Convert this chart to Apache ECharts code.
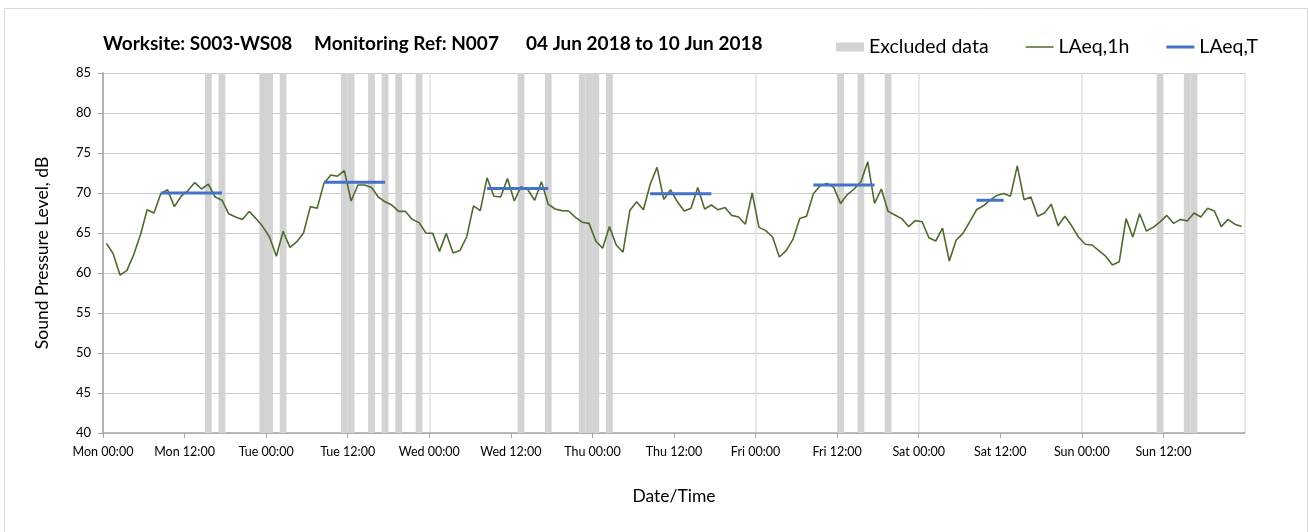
<!DOCTYPE html>
<html>
<head>
<meta charset="utf-8">
<script src="https://cdn.jsdelivr.net/npm/echarts@6/dist/echarts.min.js"></script>
<style>
html,body{margin:0;padding:0;background:#fff;}
#chart{width:1309px;height:532px;}
</style>
</head>
<body>
<div id="chart"></div>
<script>
// Hourly LAeq,1h values starting Mon 00:00 (one value per hour)
const laeq1h = [
 63.7,62.4,59.75,60.3,62.25,64.75,67.9,67.5,69.9,70.4,68.3,69.6,70.3,71.3,70.5,71.1,69.5,69.1,67.4,67.0,66.7,67.7,66.8,65.8,
 64.5,62.1,65.2,63.2,63.9,65.0,68.3,68.1,71.2,72.25,72.1,72.8,69.0,71.0,71.0,70.7,69.5,68.9,68.5,67.7,67.7,66.7,66.3,65.0,
 64.95,62.7,64.95,62.5,62.8,64.5,68.4,67.8,71.9,69.6,69.5,71.8,69.0,70.8,70.4,69.1,71.4,68.6,68.0,67.8,67.75,66.96,66.35,66.2,
 64.0,63.1,65.8,63.5,62.6,67.8,68.9,67.9,71.1,73.2,69.2,70.4,68.9,67.75,68.1,70.7,68.0,68.5,67.9,68.2,67.2,67.0,66.1,70.0,
 65.7,65.3,64.5,62.0,62.8,64.2,66.8,67.1,69.9,70.9,71.2,70.7,68.7,69.8,70.5,71.4,73.9,68.7,70.5,67.7,67.25,66.8,65.8,66.55,
 66.4,64.4,64.0,65.6,61.5,64.1,64.95,66.4,67.9,68.4,69.1,69.7,69.95,69.6,73.4,69.15,69.5,67.1,67.5,68.6,65.9,67.1,65.9,64.5,
 63.6,63.5,62.8,62.1,61.0,61.4,66.8,64.5,67.4,65.25,65.7,66.4,67.2,66.2,66.7,66.5,67.5,67.0,68.1,67.75,65.8,66.7,66.1,65.8
];
// Excluded hours (hour index from Mon 00:00)
const excludedHours = [15,17,23,24,26,35,36,39,41,43,46,61,65,70,71,72,74,108,111,115,155,159,160];
// LAeq,T periods: first hour, last hour, level
const periodStart = [8,32,56,80,104,128];
const periodEnd   = [17,41,65,89,113,132];
const periodLevel = [70.0,71.35,70.55,69.9,71.0,69.1];
// Tick labels every 12 hours
const tickLabels = ['Mon 00:00','Mon 12:00','Tue 00:00','Tue 12:00','Wed 00:00','Wed 12:00','Thu 00:00','Thu 12:00','Fri 00:00','Fri 12:00','Sat 00:00','Sat 12:00','Sun 00:00','Sun 12:00'];

const FONT = 'Lato';
const lineData = laeq1h.map((v,i)=>[i+0.5, v]);
const tSeries = [];
periodStart.forEach((s,k)=>{
  tSeries.push([s+0.5, periodLevel[k]]);
  tSeries.push([periodEnd[k]+0.5, periodLevel[k]]);
  tSeries.push([periodEnd[k]+0.5, null]);
});

const thinIcon = 'path://M0,0L28,0L28,0.01Z M0,3.7L28,3.7L28,5.3L0,5.3Z M0,9L28,9L28,9.01Z';
const thickIcon = 'path://M0,0L28,0L28,0.01Z M0,3L28,3L28,6L0,6Z M0,9L28,9L28,9.01Z';

const chart = echarts.init(document.getElementById('chart'));
chart.setOption({
  animation:false,
  backgroundColor:'#fff',
  textStyle:{fontFamily:FONT},
  graphic:[{type:'rect',shape:{x:4.5,y:8.5,width:1303,height:540},style:{fill:'none',stroke:'#d9d9d9',lineWidth:1},z:-10}],
  title:[
    {text:'Worksite: S003-WS08',left:103,top:34,padding:0,textStyle:{fontFamily:FONT,fontWeight:'bold',fontSize:19,color:'#000'}},
    {text:'Monitoring Ref: N007',left:314,top:34,padding:0,textStyle:{fontFamily:FONT,fontWeight:'bold',fontSize:19,color:'#000'}},
    {text:'04 Jun 2018 to 10 Jun 2018',left:526,top:34,padding:0,textStyle:{fontFamily:FONT,fontWeight:'bold',fontSize:19,color:'#000'}}
  ],
  legend:{
    left:836, top:37, padding:0, itemGap:37, itemWidth:28, itemHeight:9,
    textStyle:{fontFamily:FONT,fontSize:19.5,color:'#000'},
    data:[
      {name:'Excluded data',icon:'rect',itemStyle:{color:'#d3d3d3',borderWidth:0}},
      {name:'LAeq,1h',icon:thinIcon,itemStyle:{color:'#4f6a2e',borderWidth:0}},
      {name:'LAeq,T',icon:thickIcon,itemStyle:{color:'#4472c4',borderWidth:0}}
    ]
  },
  grid:{left:103,right:64,top:73,bottom:99},
  xAxis:[{
    type:'value',min:0,max:168,interval:12,
    name:'Date/Time',nameLocation:'middle',nameGap:54,
    nameTextStyle:{fontFamily:FONT,fontSize:17.5,color:'#000'},
    axisLine:{show:true,lineStyle:{color:'#a6a6a6',width:1.5}},
    axisTick:{show:true,length:5,lineStyle:{color:'#a6a6a6'}},
    axisLabel:{color:'#000',fontSize:12.5,margin:12,showMaxLabel:false,
      formatter:(v)=>tickLabels[Math.round(v/12)]||''},
    splitLine:{show:false}
  },{
    type:'value',min:0,max:168,interval:24,position:'bottom',
    axisLine:{show:false},axisTick:{show:false},axisLabel:{show:false},
    splitLine:{show:true,lineStyle:{color:'#e0e0e0',width:1.5}}
  }],
  yAxis:[{
    type:'value',min:40,max:85,interval:5,
    name:'Sound Pressure Level, dB',nameLocation:'middle',nameGap:52,
    nameTextStyle:{fontFamily:FONT,fontSize:17.5,color:'#000'},
    axisLine:{show:true,lineStyle:{color:'#a6a6a6',width:1.5}},
    axisTick:{show:true,length:5,lineStyle:{color:'#a6a6a6'}},
    axisLabel:{color:'#000',fontSize:13,margin:12},
    splitLine:{show:true,lineStyle:{color:'#c8c8c8',width:1.2}}
  },{
    type:'value',min:40,max:85,interval:5,position:'right',
    axisLine:{show:true,lineStyle:{color:'#b0b0b0',width:1.5}},
    axisTick:{show:false},axisLabel:{show:false},splitLine:{show:false}
  }],
  series:[
    {
      name:'Excluded data',type:'custom',xAxisIndex:0,yAxisIndex:0,z:1,
      itemStyle:{color:'#d3d3d3'},
      data:excludedHours.map(h=>[h,h+1]),
      renderItem:(params,api)=>{
        const p0 = api.coord([api.value(0),85]);
        const p1 = api.coord([api.value(1),40]);
        return {type:'rect',shape:{x:p0[0],y:p0[1],width:p1[0]-p0[0],height:p1[1]-p0[1]},style:{fill:'#d3d3d3'}};
      }
    },
    {
      name:'LAeq,1h',type:'line',data:lineData,symbol:'none',showSymbol:false,z:3,
      lineStyle:{color:'#4f6a2e',width:1.6},itemStyle:{color:'#4f6a2e'}
    },
    {
      name:'LAeq,T',type:'line',data:tSeries,symbol:'none',showSymbol:false,connectNulls:false,z:4,
      lineStyle:{color:'#4472c4',width:3},itemStyle:{color:'#4472c4'}
    }
  ]
});
</script>
</body>
</html>
